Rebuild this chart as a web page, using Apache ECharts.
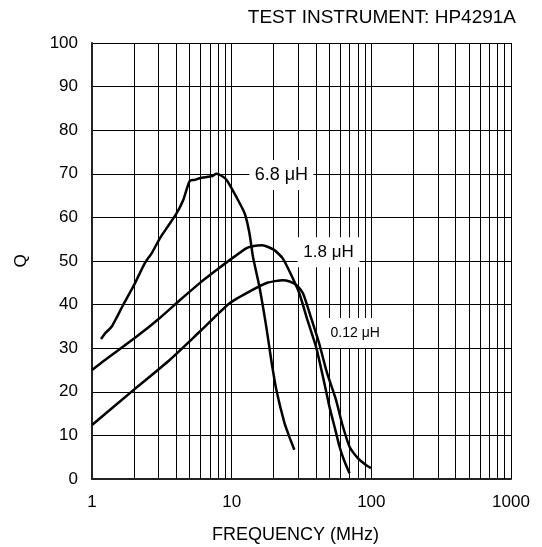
<!DOCTYPE html>
<html>
<head>
<meta charset="utf-8">
<script src="https://cdn.jsdelivr.net/npm/echarts@6/dist/echarts.min.js"></script>
<style>
  html, body { margin: 0; padding: 0; background: #fff; }
  #main { width: 542px; height: 547px; }
</style>
</head>
<body>
<div id="main"></div>
<script>
// Q vs frequency curves
const freq68 = [1.16, 1.25, 1.38, 1.5, 1.67, 2.0, 2.39, 2.7, 3.06, 3.5, 4.03, 4.5, 5.01, 5.44, 5.9, 6.77, 7.3, 7.77, 8.4, 9.2, 10.8, 12.4, 13.4, 14.2, 15.8, 17.7, 19.2, 20.9, 23.9, 26, 28.1];
const q68 = [32.1, 33.5, 34.9, 37, 39.9, 44.5, 49.5, 52, 55.2, 58, 60.9, 64, 68.4, 68.6, 69, 69.3, 69.5, 70, 69.6, 68.6, 64.7, 60.9, 56.4, 51, 44.1, 34.9, 27.3, 20.4, 12.8, 9.5, 6.7];

const freq18 = [1, 1.24, 2, 3, 4.25, 6, 8, 9.67, 12.7, 14.1, 16.6, 20, 23.2, 26.5, 30.5, 35, 40.2, 45, 50.1, 55, 59.2, 64, 69.8];
const q18 = [25, 27.3, 32.2, 36.7, 41, 45.1, 48.2, 50.2, 52.9, 53.4, 53.6, 52.6, 50.6, 47, 42.6, 36.3, 30.3, 23.5, 16.6, 11.5, 7.4, 4.2, 1.3];

const freq012 = [1, 2, 3.6, 6, 9.67, 14, 18, 23.2, 26, 29, 32.4, 37, 42.3, 48, 55.9, 62, 69.8, 80, 90, 99.3];
const q012 = [12.4, 20.5, 27.3, 34, 40.3, 43.3, 45, 45.6, 45.3, 44.5, 42.6, 37, 31.1, 24.5, 18.1, 12.5, 7.4, 4.8, 3.4, 2.5];

// curve labels: [freq, Q, text, fontSize, boxWidth]
const curveLabels = [
  [22.7, 69.7, '6.8 μH', 18, 64],
  [49.4, 52, '1.8 μH', 17, 62],
  [76.7, 33.5, '0.12 μH', 14, 60]
];

// minor decade lines 2..9 for the log grid
const minorFreqs = [];
[1, 10, 100].forEach(d => {
  for (let k = 2; k <= 9; k++) minorFreqs.push(d * k);
});

function pairs(xs, ys) {
  return xs.map((x, i) => [x, ys[i]]);
}

const chart = echarts.init(document.getElementById('main'));

const font = 'Liberation Sans';

const curveStyle = {
  type: 'line',
  showSymbol: false,
  smooth: 0.2,
  lineStyle: { color: '#000', width: 2.5 },
  z: 5
};

const option = {
  animation: false,
  title: {
    text: 'TEST INSTRUMENT: HP4291A',
    right: 21,
    top: 3,
    textStyle: { fontFamily: font, fontSize: 19, fontWeight: 'normal', color: '#000' }
  },
  grid: { left: 92, right: 31, top: 43, bottom: 68, outerBoundsMode: 'none' },
  xAxis: {
    type: 'log',
    logBase: 10,
    min: 1,
    max: 1000,
    name: 'FREQUENCY (MHz)',
    nameLocation: 'middle',
    nameGap: 47,
    nameTextStyle: { fontFamily: font, fontSize: 18, color: '#000', padding: [0, 12, 0, 0] },
    axisLine: { lineStyle: { color: '#222', width: 2 } },
    axisTick: { show: false },
    axisLabel: {
      fontFamily: font, fontSize: 17, color: '#000', margin: 15,
      formatter: v => String(Math.round(v))
    },
    splitLine: { show: true, lineStyle: { color: '#000', width: 1 } }
  },
  yAxis: {
    type: 'value',
    min: 0,
    max: 100,
    interval: 10,
    name: 'Q',
    nameLocation: 'middle',
    nameGap: 62,
    nameRotate: 90,
    nameTextStyle: { fontFamily: font, fontSize: 17, color: '#000' },
    axisLine: { show: true, lineStyle: { color: '#222', width: 2 } },
    axisTick: { show: false },
    axisLabel: { fontFamily: font, fontSize: 17, color: '#000', margin: 14 },
    splitLine: { show: true, lineStyle: { color: '#000', width: 1 } }
  },
  series: [
    {
      name: 'grid',
      type: 'line',
      data: [],
      silent: true,
      z: 1,
      markLine: {
        silent: true,
        symbol: 'none',
        label: { show: false },
        lineStyle: { color: '#000', width: 1, type: 'solid' },
        data: minorFreqs.map(f => ({ xAxis: f }))
      }
    },
    Object.assign({ name: '6.8', data: pairs(freq68, q68) }, curveStyle),
    Object.assign({ name: '1.8', data: pairs(freq18, q18) }, curveStyle),
    Object.assign({ name: '0.12', data: pairs(freq012, q012) }, curveStyle),
    {
      name: 'labels',
      type: 'scatter',
      symbol: 'rect',
      z: 10,
      silent: true,
      itemStyle: { color: '#fff', opacity: 1 },
      data: curveLabels.map(l => ({
        value: [l[0], l[1]],
        symbolSize: [l[4], 30],
        label: {
          show: true,
          position: 'inside',
          formatter: l[2],
          fontFamily: font,
          fontSize: l[3],
          color: '#000'
        }
      }))
    }
  ]
};

chart.setOption(option);
</script>
</body>
</html>
